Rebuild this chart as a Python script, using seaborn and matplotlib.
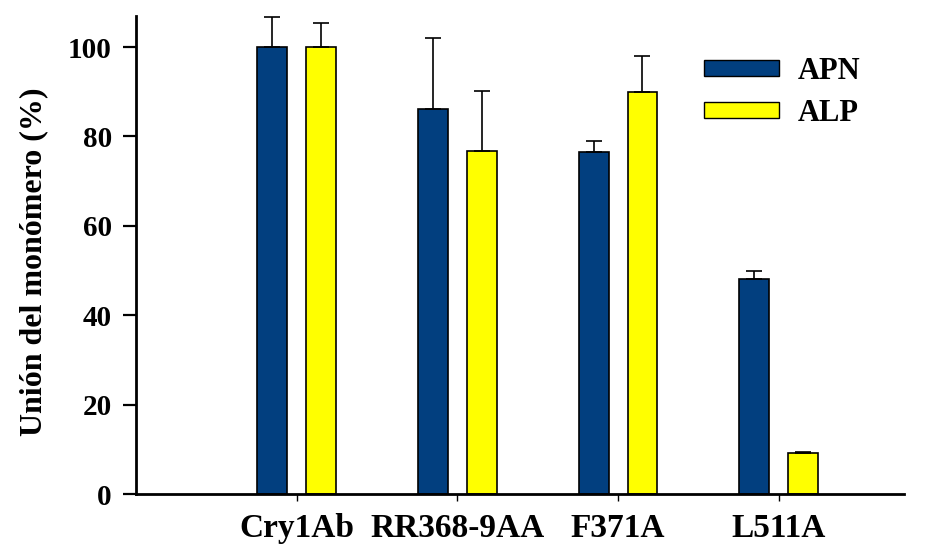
import numpy as np
import pandas as pd
import seaborn as sns
import matplotlib
matplotlib.use("Agg")
import matplotlib.pyplot as plt
from matplotlib.patches import Patch

# Data
categories = ["Cry1Ab", "RR368-9AA", "F371A", "L511A"]
apn_values = [100.0, 86.2, 76.6, 48.1]
apn_errors = [6.8, 15.9, 2.4, 1.7]
alp_values = [100.0, 76.8, 90.0, 9.1]
alp_errors = [5.3, 13.3, 7.9, 0.3]
series = ["APN", "ALP"]

df = pd.DataFrame({
    "mutante": categories * 2,
    "receptor": ["APN"] * len(categories) + ["ALP"] * len(categories),
    "union": apn_values + alp_values,
    "err": apn_errors + alp_errors,
})

sns.set_theme(style="ticks")
plt.rcParams["font.family"] = ["Liberation Serif", "DejaVu Serif"]
plt.rcParams["font.weight"] = "bold"
plt.rcParams["text.color"] = "black"
plt.rcParams["axes.labelcolor"] = "black"

palette = {"APN": "#023F7F", "ALP": "#FFFF00"}

fig = plt.figure(figsize=(9.32, 5.51), dpi=100)
ax = fig.add_axes([0.1459, 0.1034, 0.9700 - 0.1459, 0.9713 - 0.1034])

sns.barplot(data=df, x="mutante", y="union", hue="receptor", order=categories,
            hue_order=series, palette=palette, width=0.608, gap=0.388,
            edgecolor="black", linewidth=1.2, errorbar=None, legend=False, ax=ax,
            saturation=1)

# Upward-only error bars at the centre of each bar
for container, name in zip(ax.containers, series):
    sub = df[df["receptor"] == name].set_index("mutante").loc[categories]
    xs = [p.get_x() + p.get_width() / 2 for p in container.patches]
    ax.errorbar(xs, sub["union"].values,
                yerr=[np.zeros(len(xs)), sub["err"].values],
                fmt="none", ecolor="black", elinewidth=1.2, capsize=5.8,
                capthick=1.2, zorder=1)

ax.set_xlim(-1.0, 3.78)
ax.set_ylim(0, 107)
ax.set_yticks([0, 20, 40, 60, 80, 100])

sns.despine(ax=ax)
for side in ("left", "bottom"):
    ax.spines[side].set_linewidth(2.0)
    ax.spines[side].set_color("black")

ax.tick_params(axis="y", direction="out", length=9.4, width=1.6, pad=8,
               labelsize=21, colors="black")
ax.tick_params(axis="x", direction="out", length=5, width=1.0, pad=9,
               labelsize=24, colors="black")
for lab in ax.get_xticklabels() + ax.get_yticklabels():
    lab.set_fontweight("bold")

ax.set_xlabel("")
ax.set_ylabel("Unión del monómero (%)", fontsize=23, fontweight="bold", color="black")
ax.yaxis.set_label_coords(-0.114, 0.485)

handles = [Patch(facecolor=palette[s], edgecolor="black", linewidth=1.0, label=s)
           for s in series]
leg = ax.legend(handles=handles, loc="upper left",
                bbox_to_anchor=(704 / 932, 1 - 57 / 551),
                bbox_transform=fig.transFigure, frameon=False, borderpad=0,
                borderaxespad=0, handlelength=2.45, handleheight=0.46,
                handletextpad=0.62, labelspacing=0.42,
                prop={"family": "Liberation Serif", "weight": "bold", "size": 22})
for t in leg.get_texts():
    t.set_color("black")

fig.savefig("out.png", dpi=100)
